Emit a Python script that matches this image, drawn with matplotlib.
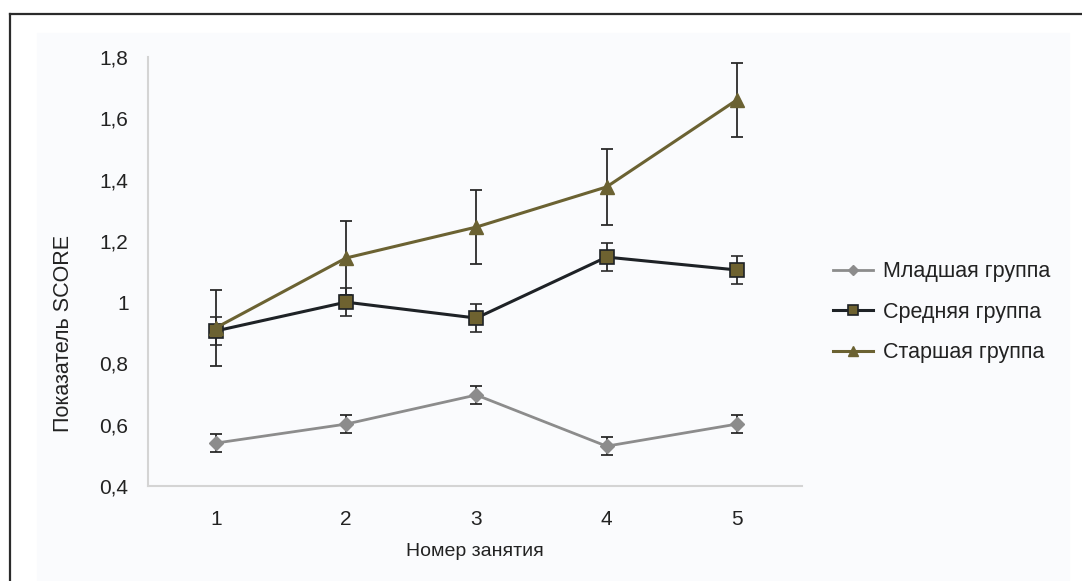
import matplotlib.pyplot as plt
from matplotlib.lines import Line2D
from matplotlib.patches import Rectangle

plt.rcParams['font.family'] = ['Liberation Sans', 'DejaVu Sans']

# session numbers and group means / errors
sessions = [1, 2, 3, 4, 5]
young = [0.54, 0.602, 0.697, 0.53, 0.602]
young_err = [0.03, 0.03, 0.03, 0.03, 0.03]
middle = [0.906, 1.0, 0.948, 1.147, 1.105]
middle_err = [0.046, 0.045, 0.045, 0.045, 0.045]
older = [0.916, 1.144, 1.245, 1.376, 1.66]
older_err = [0.125, 0.12, 0.12, 0.124, 0.122]

labels = ["Младшая группа", "Средняя группа", "Старшая группа"]
ytick_vals = [0.4, 0.6, 0.8, 1.0, 1.2, 1.4, 1.6, 1.8]
ytick_labels = ["0,4", "0,6", "0,8", "1", "1,2", "1,4", "1,6", "1,8"]

fig = plt.figure(figsize=(10.82, 5.81), dpi=100)

# light panel and black frame lines (top and left)
fig.add_artist(Rectangle((37 / 1082, 0), (1069 - 37) / 1082, 1 - 33 / 581,
                         transform=fig.transFigure, color="#fafbfd", zorder=0))
fig.add_artist(Line2D([10 / 1082, 1], [1 - 14 / 581, 1 - 14 / 581],
                      transform=fig.transFigure, color="#2b2b2b", lw=1.6))
fig.add_artist(Line2D([10 / 1082, 10 / 1082], [0, 1 - 14 / 581],
                      transform=fig.transFigure, color="#2b2b2b", lw=1.6))

ax = fig.add_axes([148 / 1082, 95 / 581, 654 / 1082, 429 / 581])
ax.set_facecolor("none")

ebar = dict(ecolor="#2a2a2a", elinewidth=1.3, capsize=4, capthick=1.3)

ax.errorbar(sessions, young, yerr=young_err, color="#8c8c8c", lw=2,
            marker="D", ms=7, mfc="#8c8c8c", mec="#8c8c8c", label=labels[0], **ebar)
ax.errorbar(sessions, middle, yerr=middle_err, color="#1e2226", lw=2.2,
            marker="s", ms=10, mfc="#6e6230", mec="#1e2226", mew=1.2,
            label=labels[1], **ebar)
ax.errorbar(sessions, older, yerr=older_err, color="#6b6232", lw=2.2,
            marker="^", ms=10, mfc="#6b6232", mec="#6b6232", label=labels[2], **ebar)

ax.set_xlim(0.48, 5.5)
ax.set_ylim(0.4, 1.8)
ax.set_xticks(sessions)
ax.set_yticks(ytick_vals)
ax.set_yticklabels(ytick_labels)
ax.tick_params(length=0, labelsize=15, colors="#222222")
ax.tick_params(axis="y", pad=14)
ax.tick_params(axis="x", pad=17.5)

for s in ["top", "right"]:
    ax.spines[s].set_visible(False)
for s in ["left", "bottom"]:
    ax.spines[s].set_color("#d4d4d4")
    ax.spines[s].set_linewidth(1.5)

ax.set_xlabel("Номер занятия", fontsize=14, color="#222222")
ax.xaxis.set_label_coords(0.5, -65 / 429)
ax.xaxis.label.set_va("center")
ax.set_ylabel("Показатель SCORE", fontsize=15.5, color="#222222")
ax.yaxis.set_label_coords((64 - 148) / 654, (486 - 334) / 429)
ax.yaxis.label.set_va("center")

handles, lbls = ax.get_legend_handles_labels()
handles = [h[0] for h in handles]
leg = ax.legend(handles, lbls, loc="center left", bbox_to_anchor=(1.047, 0.405),
                frameon=False, fontsize=15.5, handlelength=1.86, handletextpad=0.47,
                labelspacing=0.9, borderpad=0, borderaxespad=0,
                labelcolor="#222222", markerscale=0.75)

fig.savefig("out.png", dpi=100)
